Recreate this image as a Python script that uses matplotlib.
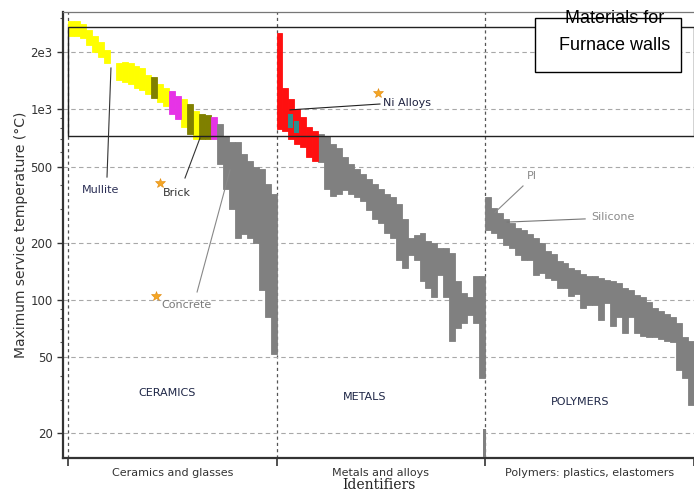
import numpy as np
import matplotlib
matplotlib.use("Agg")
import matplotlib.pyplot as plt
from matplotlib.patches import Rectangle
from matplotlib.ticker import FixedLocator, LogLocator, NullFormatter

# identifier groups along x
groups = ["Ceramics and glasses", "Metals and alloys", "Polymers: plastics, elastomers"]
group_tags = ["CERAMICS", "METALS", "POLYMERS"]

# max service temperature ranges (°C), one slot per material, left to right
ceramics_lo = [2430, 2430, 2370, 2180, 2000, 1870, 1740, np.nan, 1430, 1390,
               1350, 1300, 1270, 1200, 1150, 1090, 1040, 940, 890, 805,
               740, 700, 700, 700, 700, 517, 383, 300, 210, 222,
               210, 199, 113, 81, 52]
ceramics_hi = [2900, 2900, 2800, 2610, 2430, 2260, 2050, np.nan, 1760, 1780,
               1740, 1690, 1650, 1520, 1470, 1350, 1300, 1240, 1180, 1130,
               1060, 975, 950, 930, 910, 835, 720, 670, 670, 583,
               535, 500, 487, 407, 360]
ceramics_kind = (["pass"] * 7 + ["none"] + ["pass"] * 6
                 + ["brick", "pass", "pass", "glass", "glass", "pass", "brick",
                    "pass", "brick", "brick", "glass"]
                 + ["fail"] * 10)

metals_lo = [790, 770, 700, 657, 634, 560, 535, 530, 383, 350,
             360, 375, 360, 348, 330, 295, 267, 252, 224, 210,
             162, 147, 172, 162, 126, 116, 103, 135, 103, 61,
             71, 76, 83, 76, 39]
metals_hi = [2520, 1300, 1130, 1000, 910, 805, 770, 740, 720, 660,
             630, 560, 517, 487, 459, 432, 407, 383, 360, 348,
             320, 267, 210, 218, 224, 203, 199, 187, 187, 176,
             126, 109, 103, 133, 133]
metals_kind = ["ni"] * 7 + ["fail"] * 28
# steels inside the nickel block, and one low-melting metal at the end
steel_slot = [2, 3]
steel_lo = [800, 750]
steel_hi = [950, 870]
lowmelt_lo = 15
lowmelt_hi = 21

polymers_lo = [232, 223, 210, 193, 187, 172, 162, 162, 135, 138,
               130, 127, 116, 116, 105, 108, 91, 94, 94, 78,
               96, 73, 81, 67, 81, 67, 65, 64, 64, 62,
               61, 60, 43, 39, 28]
polymers_hi = [348, 302, 284, 267, 252, 237, 232, 222, 210, 199,
               180, 174, 160, 157, 147, 144, 136, 133, 133, 130,
               127, 126, 123, 116, 113, 106, 103, 97, 91, 87,
               84, 81, 76, 64, 61]
polymers_kind = ["fail"] * 35

# selection window for furnace walls
box_lo = 725
box_hi = 2710

# labelled materials: (name, star x, star y, text x, text y, leader from, leader to)
label_names = ["Mullite", "Brick", "Concrete", "Ni Alloys", "PI", "Silicone"]
star_x = [np.nan, 0.441, 0.422, 1.487, np.nan, np.nan]
star_y = [np.nan, 410, 105, 1218, np.nan, np.nan]
text_x = [0.067, 0.456, 0.446, 1.511, 2.201, 2.508]
text_y = [377, 364, 94, 1080, 447, 272]
lead_x0 = [0.187, 0.561, 0.619, 1.065, 2.048, 2.106]
lead_y0 = [441, 436, 110, 993, 288, 256]
lead_x1 = [0.206, 0.633, 0.777, 1.496, 2.182, 2.480]
lead_y1 = [1647, 707, 480, 1066, 396, 266]
label_colors = ["#2b2f55", "#333333", "#7a7a7a", "#1e2240", "#8a8a8a", "#8a8a8a"]
lead_colors = ["#333333", "#333333", "#888888", "#222222", "#888888", "#777777"]

kind_colors = {"pass": "#ffff00", "brick": "#808000", "glass": "#e633e6",
               "fail": "#808080", "ni": "#ff1010", "steel": "#2f8f8f"}

fig = plt.figure(figsize=(6.94, 5.04), dpi=100)
ax = fig.add_axes([63 / 694, 1 - 458 / 504, 631 / 694, 446 / 504])
ax.set_yscale("log")
ax.set_ylim(14.8, 3240)
ax.set_xlim(-0.024, 3.002)

step = 1 / 35
data = [(ceramics_lo, ceramics_hi, ceramics_kind),
        (metals_lo, metals_hi, metals_kind),
        (polymers_lo, polymers_hi, polymers_kind)]
for g, (lo, hi, kind) in enumerate(data):
    lo = np.array(lo, dtype=float)
    hi = np.array(hi, dtype=float)
    x = g + np.arange(len(lo)) * step
    kind = np.array(kind)
    for k, c in kind_colors.items():
        m = kind == k
        if m.any():
            ax.bar(x[m], hi[m] - lo[m], bottom=lo[m], width=step, align="edge",
                   color=c, edgecolor=c, linewidth=0.6, zorder=3)

# overlays in the metals group
sx = 1 + np.array(steel_slot) * step
ax.bar(sx, np.array(steel_hi) - np.array(steel_lo), bottom=steel_lo, width=step * 0.8,
       align="edge", color=kind_colors["steel"], linewidth=0, zorder=4)
ax.bar([2 - step * 0.4], [lowmelt_hi - lowmelt_lo], bottom=[lowmelt_lo], width=step * 0.6,
       align="edge", color=kind_colors["fail"], linewidth=0, zorder=3)

# grid
ax.yaxis.set_major_locator(FixedLocator([20, 50, 100, 200, 500, 1000, 2000]))
ax.yaxis.set_minor_locator(LogLocator(base=10, subs=np.arange(2, 10)))
ax.yaxis.set_minor_formatter(NullFormatter())
ax.set_yticklabels(["20", "50", "100", "200", "500", "1e3", "2e3"])
ax.grid(axis="y", which="major", ls=(0, (4, 3)), color="#a8a8a8", lw=0.8, zorder=1)
for b in range(3):
    ax.axvline(b, ls=(0, (2.5, 2.5)), color="#555555", lw=0.9, zorder=1)

ax.add_patch(Rectangle((0, box_lo), 3, box_hi - box_lo, fill=False,
                       edgecolor="#222222", lw=1.0, zorder=4))

# x axis
ax.set_xticks([0, 1, 2, 3])
ax.set_xticklabels([])
ax.set_xticks([0.5, 1.5, 2.5], minor=True)
ax.set_xticklabels(groups, minor=True, fontsize=8, color="#333333")
ax.tick_params(axis="x", which="major", length=6, width=1.2, color="#333333")
ax.tick_params(axis="x", which="minor", length=0, pad=7)
ax.tick_params(axis="y", which="major", length=4, width=1, labelsize=8.5,
               colors="#333333")
ax.tick_params(axis="y", which="minor", length=2.5, width=0.8, color="#555555")

for s in ["left", "bottom"]:
    ax.spines[s].set_linewidth(1.6)
    ax.spines[s].set_color("#333333")
ax.spines["top"].set_color("#777777")
ax.spines["top"].set_linewidth(0.9)
ax.spines["right"].set_visible(False)

ax.set_ylabel("Maximum service temperature (°C)", fontsize=10, color="#333333",
              labelpad=2)
ax.set_xlabel("Identifiers", fontsize=10, family="DejaVu Serif", color="#222222",
              labelpad=0)

# group tags
tag_x = [0.475, 1.424, 2.456]
tag_y = [32.4, 31, 29]
for t, x, y in zip(group_tags, tag_x, tag_y):
    ax.text(x, y, t, ha="center", va="center", fontsize=8, color="#1f2747", zorder=5)

# labels
ax.plot(star_x, star_y, ls="none", marker="*", ms=7, color="#f5a623",
        markeredgecolor="#e08a10", markeredgewidth=0.4, zorder=6)
for i, name in enumerate(label_names):
    ax.plot([lead_x0[i], lead_x1[i]], [lead_y0[i], lead_y1[i]], color=lead_colors[i],
            lw=0.8, zorder=6)
    ax.text(text_x[i], text_y[i], name, ha="left", va="center", fontsize=8,
            color=label_colors[i], zorder=6)

# title box
fig.patches.append(Rectangle((535 / 694, 1 - 72 / 504), 146 / 694, 54 / 504,
                             transform=fig.transFigure, facecolor="white",
                             edgecolor="black", lw=1.0, zorder=10))
fig.text(615 / 694, 1 - 18.5 / 504, "Materials for", ha="center", va="center",
         fontsize=13, family="Liberation Sans", zorder=11)
fig.text(615 / 694, 1 - 45 / 504, "Furnace walls", ha="center", va="center",
         fontsize=13, family="Liberation Sans", zorder=11)

fig.savefig("out.png", dpi=100)
